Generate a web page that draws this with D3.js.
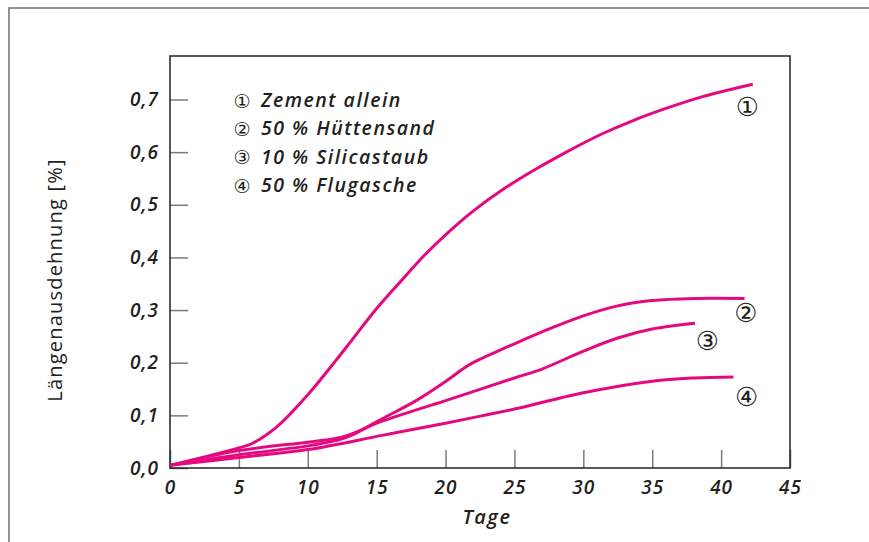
<!DOCTYPE html>
<html>
<head>
<meta charset="utf-8">
<script src="https://cdn.jsdelivr.net/npm/d3@7"></script>
<style>
  body { margin: 0; background: #fff; }
  #chart { width: 869px; height: 542px; }
  text { fill: #231f20; }
</style>
</head>
<body>
<div id="chart"></div>
<script>
// values: days vs. length change in %
const seriesNames = ["Zement allein", "50 % Hüttensand", "10 % Silicastaub", "50 % Flugasche"];
const marks = ["\u2460", "\u2461", "\u2462", "\u2463"];

const days1 = [0, 2.5, 5, 6, 7.75, 10, 12, 13.2, 15, 17, 18.5, 20, 22, 24.1, 26.5, 28.9, 31.3, 33.7, 36.1, 38.6, 41, 42.3];
const ext1 = [0.005, 0.021, 0.038, 0.047, 0.078, 0.139, 0.203, 0.243, 0.303, 0.362, 0.405, 0.443, 0.488, 0.528, 0.567, 0.602, 0.634, 0.661, 0.684, 0.705, 0.721, 0.729];

const days2 = [0, 5, 10, 12, 13, 15.4, 17.8, 20.2, 21.65, 23.8, 25, 27.7, 30, 32.5, 35, 38, 41.7];
const ext2 = [0.005, 0.025, 0.042, 0.052, 0.06, 0.0935, 0.127, 0.168, 0.195, 0.222, 0.236, 0.266, 0.289, 0.308, 0.318, 0.322, 0.322];

const days3 = [0, 5, 10, 12, 13, 15.4, 20, 25, 27, 30, 32.5, 35, 38.1];
const ext3 = [0.005, 0.033, 0.049, 0.056, 0.063, 0.089, 0.128, 0.171, 0.188, 0.222, 0.247, 0.264, 0.275];

const days4 = [0, 5, 10, 15.4, 20, 22.6, 25, 30, 35, 38, 40.9];
const ext4 = [0.005, 0.02, 0.035, 0.062, 0.085, 0.099, 0.112, 0.143, 0.165, 0.171, 0.173];

const xTicks = [0, 5, 10, 15, 20, 25, 30, 35, 40, 45];
const yTicks = [0, 0.1, 0.2, 0.3, 0.4, 0.5, 0.6, 0.7];

// where the circled numbers sit next to the curve ends (days, %)
const markAt = [[41.9, 0.686], [41.8, 0.295], [39.0, 0.241], [41.85, 0.134]];

const W = 869, H = 542;
const magenta = "#e5097f";

const svg = d3.select("#chart").append("svg")
    .attr("width", W)
    .attr("height", H);

const x = d3.scaleLinear().domain([0, 45]).range([170, 790]);
const y = d3.scaleLinear().domain([0, 0.7]).range([468, 99.5]);
const yTop = 56;

// outer frame, open to the right and bottom
svg.append("rect")
    .attr("x", 9).attr("y", 8)
    .attr("width", 900).attr("height", 600)
    .attr("fill", "none")
    .attr("stroke", "#6d6e70")
    .attr("stroke-width", 1.5);

const fmt = d => d3.format(".1f")(d).replace(".", ",");

const yAxis = svg.append("g")
    .attr("transform", `translate(${x(0)},0)`)
    .call(d3.axisLeft(y).tickValues(yTicks).tickFormat(fmt)
        .tickSizeInner(-18).tickSizeOuter(0).tickPadding(11));

const xAxis = svg.append("g")
    .attr("transform", `translate(0,${y(0)})`)
    .call(d3.axisBottom(x).tickValues(xTicks).tickFormat(d3.format("d"))
        .tickSizeInner(-18).tickSizeOuter(0).tickPadding(13));

[yAxis, xAxis].forEach(g => {
    g.select(".domain").remove();
    g.selectAll(".tick line").attr("stroke", "#7a7a7a").attr("stroke-width", 1.5);
    g.selectAll(".tick text")
        .attr("fill", "#231f20")
        .style("font-family", "'Open Sans', sans-serif")
        .style("font-style", "italic")
        .style("font-weight", 600)
        .style("font-size", "19px")
        .style("letter-spacing", "1px");
});

// plot frame
svg.append("rect")
    .attr("x", x(0)).attr("y", yTop)
    .attr("width", x(45) - x(0)).attr("height", y(0) - yTop)
    .attr("fill", "none")
    .attr("stroke", "#231f20")
    .attr("stroke-width", 1.5);

// curves
const series = [[days1, ext1], [days2, ext2], [days3, ext3], [days4, ext4]];
const line = d3.line()
    .x(d => x(d[0]))
    .y(d => y(d[1]))
    .curve(d3.curveCatmullRom.alpha(0.5));

svg.append("g").selectAll("path")
    .data(series)
    .join("path")
    .attr("d", s => line(s[0].map((d, i) => [d, s[1][i]])))
    .attr("fill", "none")
    .attr("stroke", magenta)
    .attr("stroke-width", 3);

// numbers at the curve ends
svg.append("g").selectAll("text")
    .data(markAt)
    .join("text")
    .attr("x", d => x(d[0]))
    .attr("y", d => y(d[1]))
    .attr("text-anchor", "middle")
    .attr("dominant-baseline", "central")
    .style("font-family", "'DejaVu Sans', sans-serif")
    .style("font-size", "26px")
    .text((d, i) => marks[i]);

// legend
const legend = svg.append("g");
seriesNames.forEach((name, i) => {
    const by = 107 + i * 28.4;
    legend.append("text")
        .attr("x", 242).attr("y", by - 6.5)
        .attr("text-anchor", "middle")
        .attr("dominant-baseline", "central")
        .style("font-family", "'DejaVu Sans', sans-serif")
        .style("font-size", "19px")
        .text(marks[i]);
    legend.append("text")
        .attr("x", 261).attr("y", by)
        .style("font-family", "'Open Sans', sans-serif")
        .style("font-style", "italic")
        .style("font-weight", 600)
        .style("font-size", "19.5px")
        .style("letter-spacing", "1.5px")
        .text(name);
});

// axis titles
svg.append("text")
    .attr("transform", `translate(62,${(yTop + y(0)) / 2 + 18}) rotate(-90)`)
    .attr("text-anchor", "middle")
    .style("font-family", "'Open Sans', sans-serif")
    .style("font-size", "20px")
    .style("font-weight", 500)
    .style("letter-spacing", "1.2px")
    .text("Längenausdehnung [%]");

svg.append("text")
    .attr("x", 487).attr("y", 524)
    .attr("text-anchor", "middle")
    .style("font-family", "'Open Sans', sans-serif")
    .style("font-style", "italic")
    .style("font-weight", 600)
    .style("font-size", "20px")
    .style("letter-spacing", "1.5px")
    .text("Tage");
</script>
</body>
</html>
